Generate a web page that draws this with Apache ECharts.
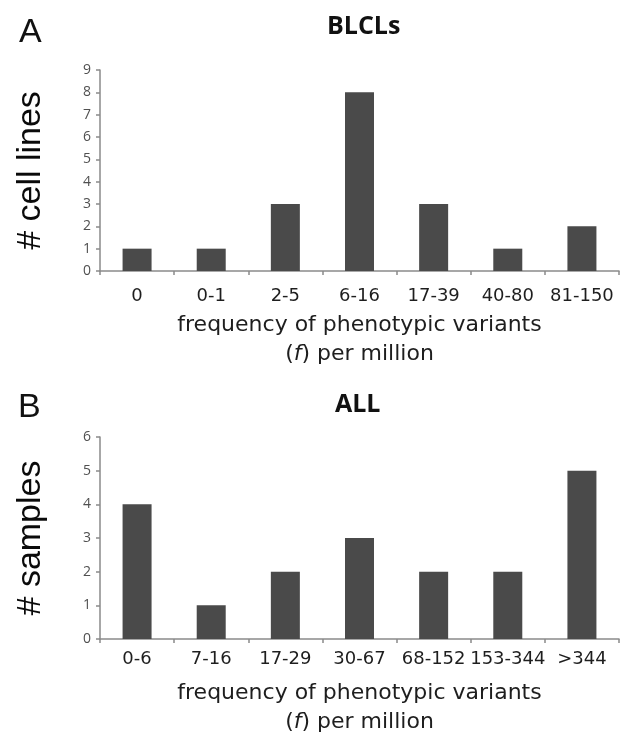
<!DOCTYPE html>
<html>
<head>
<meta charset="utf-8">
<script src="https://cdn.jsdelivr.net/npm/echarts@6/dist/echarts.min.js"></script>
<style>
  html, body { margin: 0; padding: 0; background: #fff; }
  #chart { width: 633px; height: 736px; }
</style>
</head>
<body>
<div id="chart"></div>
<script>
// panel A - BLCLs
const blclCategories = ["0", "0-1", "2-5", "6-16", "17-39", "40-80", "81-150"];
const blclCounts = [1, 1, 3, 8, 3, 1, 2];

// panel B - ALL
const allCategories = ["0-6", "7-16", "17-29", "30-67", "68-152", "153-344", ">344"];
const allCounts = [4, 1, 2, 3, 2, 2, 5];

const xName = "{n|frequency of phenotypic variants}\n{n|(}{i|f}{n|) per million}";

function xAxisFor(gridIndex, data, margin) {
  return {
    type: "category",
    gridIndex: gridIndex,
    data: data,
    axisLine: { lineStyle: { color: "#8a8a8a", width: 1.5 } },
    axisTick: { show: true, length: 4, lineStyle: { color: "#8a8a8a", width: 1.5 } },
    axisLabel: {
      interval: 0,
      hideOverlap: false,
      margin: margin,
      color: "#1e1e1e",
      fontFamily: "DejaVu Sans",
      fontSize: 18,
    },
    name: xName,
    nameLocation: "middle",
    nameGap: 40,
    nameTextStyle: {
      rich: {
        n: { fontFamily: "DejaVu Sans", fontSize: 22, color: "#1e1e1e", lineHeight: 29 },
        i: { fontFamily: "DejaVu Sans", fontStyle: "italic", fontSize: 22, color: "#1e1e1e", lineHeight: 29 },
      },
    },
  };
}

function yAxisFor(gridIndex, max, name) {
  return {
    type: "value",
    gridIndex: gridIndex,
    min: 0,
    max: max,
    interval: 1,
    splitLine: { show: false },
    axisLine: { show: true, lineStyle: { color: "#8a8a8a", width: 1.5 } },
    axisTick: { show: true, length: 4, lineStyle: { color: "#8a8a8a", width: 1.5 } },
    axisLabel: {
      margin: 9,
      color: "#505050",
      fontFamily: "Open Sans",
      fontSize: 14,
    },
    name: name,
    nameLocation: "middle",
    nameRotate: 90,
    nameGap: 52,
    nameTextStyle: {
      fontFamily: "Liberation Sans",
      fontSize: 34,
      color: "#0a0a0a",
    },
  };
}

const chart = echarts.init(document.getElementById("chart"));
chart.setOption({
  backgroundColor: "#fff",
  animation: false,
  title: [
    { text: "A", left: 14, top: 11, textStyle: { fontFamily: "Liberation Sans", fontSize: 34, fontWeight: "normal", color: "#111" } },
    { text: "BLCLs", left: 322, top: 9, textStyle: { fontFamily: "Open Sans", fontSize: 25, fontWeight: "bold", color: "#111" } },
    { text: "B", left: 13, top: 386, textStyle: { fontFamily: "Liberation Sans", fontSize: 34, fontWeight: "normal", color: "#111" } },
    { text: "ALL", left: 330, top: 387, textStyle: { fontFamily: "Open Sans", fontSize: 25, fontWeight: "bold", color: "#111" } },
  ],
  grid: [
    { left: 100, right: 14, top: 70, height: 201 },
    { left: 100, right: 14, top: 437, height: 202 },
  ],
  xAxis: [
    xAxisFor(0, blclCategories, 16),
    xAxisFor(1, allCategories, 11),
  ],
  yAxis: [
    yAxisFor(0, 9, "# cell lines"),
    yAxisFor(1, 6, "# samples"),
  ],
  series: [
    {
      type: "bar",
      xAxisIndex: 0,
      yAxisIndex: 0,
      data: blclCounts,
      barWidth: 29,
      itemStyle: { color: "#4a4a4a" },
    },
    {
      type: "bar",
      xAxisIndex: 1,
      yAxisIndex: 1,
      data: allCounts,
      barWidth: 29,
      itemStyle: { color: "#4a4a4a" },
    },
  ],
});
</script>
</body>
</html>
